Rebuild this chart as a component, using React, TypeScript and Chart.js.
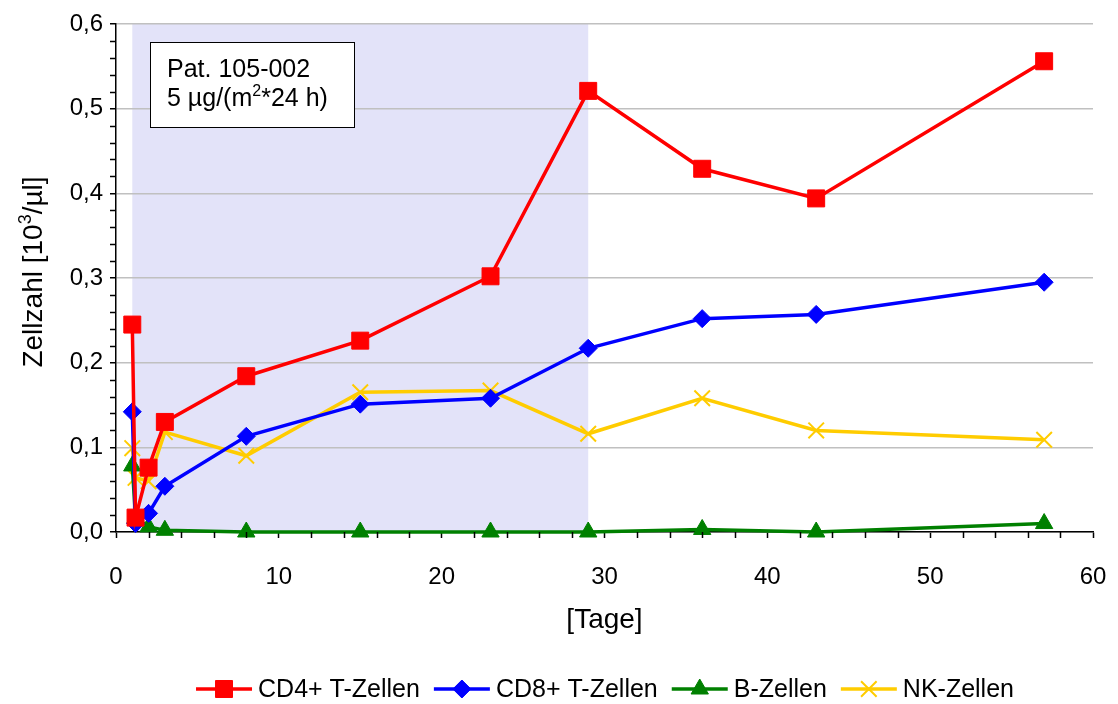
import React, { useEffect, useRef } from 'react';
import { Chart, registerables } from 'chart.js';

Chart.register(...registerables);

// ---- data ----
const days = [1, 1.2, 2, 3, 8, 15, 23, 29, 36, 43, 57];
const cd4Values = [0.245, 0.017, 0.076, 0.130, 0.184, 0.226, 0.302, 0.521, 0.429, 0.394, 0.556];
const cd8Values = [0.142, 0.010, 0.022, 0.054, 0.113, 0.151, 0.158, 0.217, 0.252, 0.257, 0.295];
const bValues = [0.078, 0.017, 0.006, 0.002, 0.000, 0.000, 0.000, 0.000, 0.003, 0.000, 0.010];
const nkValues = [0.099, 0.064, 0.060, 0.118, 0.090, 0.165, 0.167, 0.116, 0.158, 0.120, 0.109];
const seriesNames = ['CD4+ T-Zellen', 'CD8+ T-Zellen', 'B-Zellen', 'NK-Zellen'];
const xTickValues = [0, 10, 20, 30, 40, 50, 60];
const yTickValues = [0, 0.1, 0.2, 0.3, 0.4, 0.5, 0.6];
const therapyPeriod = [1, 29];
const annotationLine1 = 'Pat. 105-002';
const annotationLine2 = [['5 µg/(m', false], ['2', true], ['*24 h)', false]] as [string, boolean][];
const xTitle = '[Tage]';
const yTitle = [['Zellzahl [10', false], ['3', true], ['/µl]', false]] as [string, boolean][];

// ---- styles ----
const FONT = '"Liberation Sans", Arial, Helvetica, sans-serif';
const seriesStyles = [
  { color: '#ff0000', marker: 'rect', radius: 12, markerLine: 1 },
  { color: '#0000ff', marker: 'rectRot', radius: 9, markerLine: 1 },
  { color: '#008000', marker: 'triangle', radius: 10, markerLine: 1 },
  { color: '#ffcc00', marker: 'crossRot', radius: 11, markerLine: 2 },
];

function drawMarker(ctx: CanvasRenderingContext2D, marker: string, x: number, y: number, r: number, color: string, lw: number) {
  ctx.save();
  ctx.fillStyle = color;
  ctx.strokeStyle = color;
  ctx.lineWidth = lw;
  ctx.beginPath();
  if (marker === 'rect') {
    const s = Math.SQRT1_2 * r;
    ctx.rect(x - s, y - s, 2 * s, 2 * s);
    ctx.fill();
    ctx.stroke();
  } else if (marker === 'rectRot') {
    ctx.moveTo(x, y - r);
    ctx.lineTo(x + r, y);
    ctx.lineTo(x, y + r);
    ctx.lineTo(x - r, y);
    ctx.closePath();
    ctx.fill();
    ctx.stroke();
  } else if (marker === 'triangle') {
    let a = 0;
    ctx.moveTo(x + Math.sin(a) * r, y - Math.cos(a) * r);
    a += (2 * Math.PI) / 3;
    ctx.lineTo(x + Math.sin(a) * r, y - Math.cos(a) * r);
    a += (2 * Math.PI) / 3;
    ctx.lineTo(x + Math.sin(a) * r, y - Math.cos(a) * r);
    ctx.closePath();
    ctx.fill();
    ctx.stroke();
  } else if (marker === 'crossRot') {
    const o = Math.SQRT1_2 * r;
    ctx.moveTo(x - o, y - o);
    ctx.lineTo(x + o, y + o);
    ctx.moveTo(x - o, y + o);
    ctx.lineTo(x + o, y - o);
    ctx.stroke();
  }
  ctx.restore();
}

// draws text with superscript parts; x is the start (left) unless centered
function drawRich(ctx: CanvasRenderingContext2D, parts: [string, boolean][], x: number, y: number, size: number, supSize: number, supRaise: number, center: boolean) {
  const widths = parts.map(([t, sup]) => {
    ctx.font = `${sup ? supSize : size}px ${FONT}`;
    return ctx.measureText(t).width;
  });
  const total = widths.reduce((a, b) => a + b, 0);
  let cx = center ? x - total / 2 : x;
  ctx.textAlign = 'left';
  ctx.textBaseline = 'alphabetic';
  parts.forEach(([t, sup], i) => {
    ctx.font = `${sup ? supSize : size}px ${FONT}`;
    ctx.fillText(t, cx, sup ? y - supRaise : y);
    cx += widths[i];
  });
}

const decorPlugin = {
  id: 'decor',
  beforeDraw(chart: any) {
    const { ctx, chartArea, scales } = chart;
    ctx.save();
    ctx.fillStyle = '#ffffff';
    ctx.fillRect(0, 0, chart.width, chart.height);
    const x1 = scales.x.getPixelForValue(therapyPeriod[0]);
    const x2 = scales.x.getPixelForValue(therapyPeriod[1]);
    ctx.fillStyle = '#e3e3f9';
    ctx.fillRect(x1, chartArea.top, x2 - x1, chartArea.bottom - chartArea.top);
    ctx.restore();
  },
  afterDraw(chart: any) {
    const { ctx, chartArea, scales } = chart;
    const xs = scales.x;
    const ys = scales.y;
    ctx.save();
    // minor ticks
    ctx.strokeStyle = '#000000';
    ctx.lineWidth = 1.5;
    ctx.beginPath();
    for (let i = 1; i < 30; i++) {
      if (i % 5 === 0) continue;
      const py = Math.round(ys.getPixelForValue(i * 0.02)) + 0.5;
      ctx.moveTo(chartArea.left - 6, py);
      ctx.lineTo(chartArea.left, py);
    }
    for (let i = 1; i < 30; i++) {
      if (i % 5 === 0) continue;
      const px = Math.round(xs.getPixelForValue(i * 2)) + 0.5;
      ctx.moveTo(px, chartArea.bottom);
      ctx.lineTo(px, chartArea.bottom + 6);
    }
    ctx.stroke();

    // annotation box
    ctx.fillStyle = '#ffffff';
    ctx.fillRect(150, 42, 204, 85);
    ctx.strokeStyle = '#000000';
    ctx.lineWidth = 1;
    ctx.strokeRect(150.5, 42.5, 204, 85);
    ctx.fillStyle = '#000000';
    ctx.font = `25px ${FONT}`;
    ctx.textAlign = 'left';
    ctx.textBaseline = 'alphabetic';
    ctx.fillText(annotationLine1, 167, 77);
    drawRich(ctx, annotationLine2, 167, 106, 25, 16, 10, false);

    // axis titles
    ctx.font = `28px ${FONT}`;
    ctx.textAlign = 'center';
    ctx.textBaseline = 'middle';
    ctx.fillText(xTitle, (chartArea.left + chartArea.right) / 2, 620);
    ctx.save();
    ctx.translate(42, 272);
    ctx.rotate(-Math.PI / 2);
    drawRich(ctx, yTitle, 0, 0, 28, 18, 11, true);
    ctx.restore();

    // legend
    ctx.font = `25px ${FONT}`;
    const lineLen = 56;
    const gapText = 6;
    const gapItem = 14;
    const widths = seriesNames.map((n) => ctx.measureText(n).width);
    const total = widths.reduce((a, b) => a + b, 0) + seriesNames.length * (lineLen + gapText) + gapItem * (seriesNames.length - 1);
    let cx = 605 - total / 2;
    const ly = 689;
    seriesNames.forEach((name, i) => {
      const st = seriesStyles[i];
      ctx.strokeStyle = st.color;
      ctx.lineWidth = 3.5;
      ctx.beginPath();
      ctx.moveTo(cx, ly);
      ctx.lineTo(cx + lineLen, ly);
      ctx.stroke();
      drawMarker(ctx, st.marker, cx + lineLen / 2, ly, st.radius, st.color, st.markerLine);
      ctx.fillStyle = '#000000';
      ctx.font = `25px ${FONT}`;
      ctx.textAlign = 'left';
      ctx.textBaseline = 'middle';
      ctx.fillText(name, cx + lineLen + gapText, ly + 1);
      cx += lineLen + gapText + widths[i] + gapItem;
    });
    ctx.restore();
  },
};

export default function App() {
  const canvasRef = useRef<HTMLCanvasElement | null>(null);

  useEffect(() => {
    const canvas = canvasRef.current;
    if (!canvas) return;
    const valueSets = [cd4Values, cd8Values, bValues, nkValues];
    const datasets = seriesNames.map((name, i) => ({
      label: name,
      data: days.map((d, j) => ({ x: d, y: valueSets[i][j] })),
      borderColor: seriesStyles[i].color,
      backgroundColor: seriesStyles[i].color,
      borderWidth: 3.5,
      pointStyle: seriesStyles[i].marker,
      pointRadius: seriesStyles[i].radius,
      pointHoverRadius: seriesStyles[i].radius,
      pointBorderWidth: seriesStyles[i].markerLine,
      pointBorderColor: seriesStyles[i].color,
      pointBackgroundColor: seriesStyles[i].color,
      tension: 0,
      clip: false as any,
    }));

    const chart = new Chart(canvas, {
      type: 'line',
      data: { datasets },
      plugins: [decorPlugin],
      options: {
        responsive: false,
        animation: false,
        devicePixelRatio: 1,
        layout: { padding: { left: 0, right: 25, top: 24, bottom: 0 } },
        font: { family: FONT } as any,
        plugins: {
          legend: { display: false },
          tooltip: { enabled: false },
        },
        scales: {
          x: {
            type: 'linear',
            min: 0,
            max: 60,
            afterBuildTicks: (scale: any) => {
              scale.ticks = xTickValues.map((v) => ({ value: v }));
            },
            afterFit: (scale: any) => {
              scale.height = 172;
              scale.paddingLeft = 0;
              scale.paddingRight = 0;
            },
            ticks: {
              color: '#000000',
              font: { family: FONT, size: 24 },
              padding: 25,
              maxRotation: 0,
              callback: (v: any) => String(v),
            },
            grid: {
              drawOnChartArea: false,
              drawTicks: true,
              tickLength: 6,
              tickColor: '#000000',
              tickWidth: 1.5,
            },
            border: { display: true, color: '#000000', width: 1.5 },
          },
          y: {
            type: 'linear',
            min: 0,
            max: 0.6,
            afterBuildTicks: (scale: any) => {
              scale.ticks = yTickValues.map((v) => ({ value: v }));
            },
            afterFit: (scale: any) => {
              scale.width = 116;
              scale.paddingTop = 0;
              scale.paddingBottom = 0;
            },
            ticks: {
              color: '#000000',
              font: { family: FONT, size: 24 },
              padding: 7,
              callback: (v: any) => Number(v).toFixed(1).replace('.', ','),
            },
            grid: {
              color: '#c0c0c0',
              lineWidth: 1.5,
              drawTicks: true,
              tickLength: 6,
              tickColor: '#000000',
              tickWidth: 1.5,
            },
            border: { display: true, color: '#000000', width: 1.5 },
          },
        },
      },
    });
    return () => chart.destroy();
  }, []);

  return (
    <div style={{ position: 'fixed', left: 0, top: 0, width: 1118, height: 704, background: '#ffffff' }}>
      <canvas ref={canvasRef} width={1118} height={704} style={{ display: 'block' }} />
    </div>
  );
}
